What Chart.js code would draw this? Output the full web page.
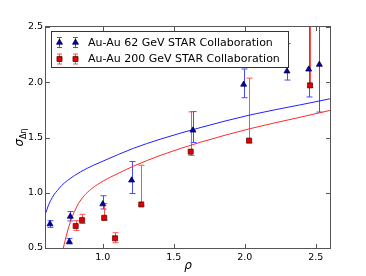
<!DOCTYPE html>
<html>
<head>
<meta charset="utf-8">
<script src="https://cdn.jsdelivr.net/npm/chart.js@4.4.1/dist/chart.umd.min.js"></script>
<style>
  body { margin: 0; background: #fff; }
  #wrap { width: 366px; height: 276px; }
</style>
</head>
<body>
<div id="wrap"><canvas id="myChart" width="366" height="276"></canvas></div>
<script>
// values
const seriesNames = ["Au-Au 62 GeV STAR Collaboration", "Au-Au 200 GeV STAR Collaboration"];

const rho62 = [0.628, 0.764, 0.771, 1.0, 1.203, 1.635, 1.992, 2.297, 2.45, 2.525];
const sigma62 = [0.717, 0.557, 0.785, 0.898, 1.113, 1.565, 1.98, 2.10, 2.117, 2.16];
const errLo62 = [0.03, 0.02, 0.04, 0.045, 0.12, 0.11, 0.12, 0.08, 0.25, 0.43];
const errHi62 = [0.03, 0.03, 0.045, 0.075, 0.17, 0.17, 0.14, 0.25, 0.7, 0.7];

const rho200 = [0.809, 0.854, 1.01, 1.086, 1.271, 1.619, 2.03, 2.459];
const sigma200 = [0.699, 0.752, 0.773, 0.588, 0.894, 1.372, 1.472, 1.972];
const errLo200 = [0.04, 0.03, 0.02, 0.04, 0.01, 0.035, 0.02, 0.02];
const errHi200 = [0.048, 0.053, 0.13, 0.05, 0.355, 0.36, 0.565, 0.8];

// fitted curves, traced point by point
const curveRho62 = [0.6, 0.615, 0.633, 0.655, 0.68, 0.71, 0.75, 0.8, 0.844, 0.938, 1.008, 1.215, 1.403, 1.685, 2.037, 2.389, 2.6];
const curveSigma62 = [0.82, 0.88, 0.93, 0.98, 1.02, 1.065, 1.11, 1.155, 1.19, 1.251, 1.29, 1.402, 1.484, 1.589, 1.704, 1.795, 1.85];
const curveRho200 = [0.722, 0.735, 0.75, 0.771, 0.8, 0.83, 0.87, 0.92, 1.008, 1.1, 1.215, 1.403, 1.685, 2.037, 2.389, 2.6];
const curveSigma200 = [0.5, 0.57, 0.645, 0.735, 0.83, 0.905, 0.975, 1.035, 1.11, 1.17, 1.24, 1.337, 1.456, 1.58, 1.683, 1.745];

const xTicks = [1.0, 1.5, 2.0, 2.5];
const xTickLabels = ["1.0", "1.5", "2.0", "2.5"];
const yTicks = [0.5, 1.0, 1.5, 2.0, 2.5];
const yTickLabels = ["0.5", "1.0", "1.5", "2.0", "2.5"];

const FONT = "DejaVu Sans";
const BLUE = "#2020ff";
const RED = "#ff2a2a";
const BLUE_ERR = "#4a4aff";
const RED_ERR = "#ff5050";

const pts = (xs, ys) => xs.map((x, i) => ({ x: x, y: ys[i] }));

function drawErrBar(ctx, x, yTop, yBot, color, cap) {
  ctx.strokeStyle = color;
  ctx.lineWidth = 1;
  ctx.beginPath();
  ctx.moveTo(x, yTop);
  ctx.lineTo(x, yBot);
  ctx.moveTo(x - cap, yTop);
  ctx.lineTo(x + cap, yTop);
  ctx.moveTo(x - cap, yBot);
  ctx.lineTo(x + cap, yBot);
  ctx.stroke();
}

const errorBars = {
  id: "errorBars",
  beforeDatasetsDraw(chart) {
    const { ctx, chartArea, scales } = chart;
    ctx.save();
    ctx.beginPath();
    ctx.rect(chartArea.left, chartArea.top, chartArea.right - chartArea.left, chartArea.bottom - chartArea.top);
    ctx.clip();
    const sets = [
      [rho62, sigma62, errLo62, errHi62, BLUE_ERR],
      [rho200, sigma200, errLo200, errHi200, RED_ERR],
    ];
    sets.forEach(([xs, ys, lo, hi, color]) => {
      xs.forEach((r, i) => {
        const px = Math.round(scales.x.getPixelForValue(r)) + 0.5;
        const top = scales.y.getPixelForValue(ys[i] + hi[i]);
        const bot = scales.y.getPixelForValue(ys[i] - lo[i]);
        drawErrBar(ctx, px, top, bot, color, 3);
      });
    });
    ctx.restore();
  },
};

const frameAndLabels = {
  id: "frameAndLabels",
  afterDraw(chart) {
    const { ctx, chartArea, scales } = chart;
    const { left, right, top, bottom } = chartArea;
    ctx.save();
    ctx.strokeStyle = "#555";
    ctx.lineWidth = 1;
    ctx.strokeRect(left - 0.5, top - 0.5, right - left + 1, bottom - top + 1);

    // inward ticks on all four sides
    ctx.beginPath();
    xTicks.forEach((v) => {
      const px = Math.round(scales.x.getPixelForValue(v)) + 0.5;
      ctx.moveTo(px, bottom);
      ctx.lineTo(px, bottom - 4);
      ctx.moveTo(px, top);
      ctx.lineTo(px, top + 4);
    });
    yTicks.forEach((v) => {
      const py = Math.round(scales.y.getPixelForValue(v)) + 0.5;
      ctx.moveTo(left, py);
      ctx.lineTo(left + 4, py);
      ctx.moveTo(right, py);
      ctx.lineTo(right - 4, py);
    });
    ctx.stroke();

    // axis titles
    ctx.fillStyle = "#000";
    ctx.font = "italic 12px " + FONT;
    ctx.textAlign = "center";
    ctx.textBaseline = "middle";
    ctx.fillText("ρ", (left + right) / 2, 266);

    ctx.translate(19, (top + bottom) / 2);
    ctx.rotate(-Math.PI / 2);
    ctx.textAlign = "left";
    ctx.textBaseline = "alphabetic";
    ctx.font = "italic 12px " + FONT;
    const w1 = ctx.measureText("σ").width;
    ctx.font = "8px " + FONT;
    const w2 = ctx.measureText("Δη").width;
    const x0 = -(w1 + w2) / 2;
    ctx.font = "italic 12px " + FONT;
    ctx.fillText("σ", x0, 4);
    ctx.font = "8px " + FONT;
    ctx.fillText("Δη", x0 + w1, 7);
    ctx.restore();

    // legend box
    ctx.save();
    const lx = 51, ly = 31, lw = 237, lh = 36;
    ctx.fillStyle = "#fff";
    ctx.fillRect(lx, ly, lw, lh);
    ctx.strokeStyle = "#333";
    ctx.lineWidth = 1;
    ctx.strokeRect(lx + 0.5, ly + 0.5, lw, lh);
    const rows = [
      { y: 42.5, err: BLUE_ERR, style: "triangle", fill: "#0000b0", edge: "#000030", r: 3.5 },
      { y: 59, err: RED_ERR, style: "rect", fill: "#e00000", edge: "#500000", r: 3.6 },
    ];
    rows.forEach((row, i) => {
      [59.5, 75.5].forEach((mx) => {
        drawErrBar(ctx, mx, row.y - 5, row.y + 5, row.err, 2.5);
        ctx.fillStyle = row.fill;
        ctx.strokeStyle = row.edge;
        ctx.lineWidth = 0.7;
        Chart.helpers.drawPoint(ctx, { pointStyle: row.style, radius: row.r, rotation: 0, borderWidth: 0.7 }, mx, row.y);
      });
      ctx.fillStyle = "#000";
      ctx.font = "11px " + FONT;
      ctx.textAlign = "left";
      ctx.textBaseline = "middle";
      ctx.fillText(seriesNames[i], 88, row.y + 0.5);
    });
    ctx.restore();
  },
};

const tickFont = { family: FONT, size: 9.5 };

new Chart(document.getElementById("myChart"), {
  type: "scatter",
  data: {
    datasets: [
      {
        label: seriesNames[0],
        data: pts(rho62, sigma62),
        pointStyle: "triangle",
        pointRadius: 3.5,
        backgroundColor: "#0000b0",
        borderColor: "#000030",
        borderWidth: 0.7,
        order: 0,
      },
      {
        label: seriesNames[1],
        data: pts(rho200, sigma200),
        pointStyle: "rect",
        pointRadius: 3.6,
        backgroundColor: "#e00000",
        borderColor: "#500000",
        borderWidth: 0.7,
        order: 1,
      },
      {
        label: "fit 62",
        data: pts(curveRho62, curveSigma62),
        showLine: true,
        pointRadius: 0,
        borderColor: BLUE,
        borderWidth: 1,
        cubicInterpolationMode: "monotone",
        order: 2,
      },
      {
        label: "fit 200",
        data: pts(curveRho200, curveSigma200),
        showLine: true,
        pointRadius: 0,
        borderColor: RED,
        borderWidth: 1,
        cubicInterpolationMode: "monotone",
        order: 3,
      },
    ],
  },
  options: {
    responsive: false,
    animation: false,
    layout: { padding: { top: 27, right: 36, left: 0, bottom: 0 } },
    plugins: { legend: { display: false }, tooltip: { enabled: false } },
    scales: {
      x: {
        type: "linear",
        min: 0.6,
        max: 2.6,
        grid: { display: false, drawTicks: false },
        border: { display: false },
        afterBuildTicks: (s) => { s.ticks = xTicks.map((v) => ({ value: v })); },
        afterFit: (s) => { s.height = 28; },
        ticks: { font: tickFont, color: "#000", padding: 4, maxRotation: 0, callback: (v, i) => xTickLabels[i] },
      },
      y: {
        type: "linear",
        min: 0.5,
        max: 2.5,
        grid: { display: false, drawTicks: false },
        border: { display: false },
        afterBuildTicks: (s) => { s.ticks = yTicks.map((v) => ({ value: v })); },
        afterFit: (s) => { s.width = 46; },
        ticks: { font: tickFont, color: "#000", padding: 3, callback: (v, i) => yTickLabels[i] },
      },
    },
  },
  plugins: [errorBars, frameAndLabels],
});
</script>
</body>
</html>
